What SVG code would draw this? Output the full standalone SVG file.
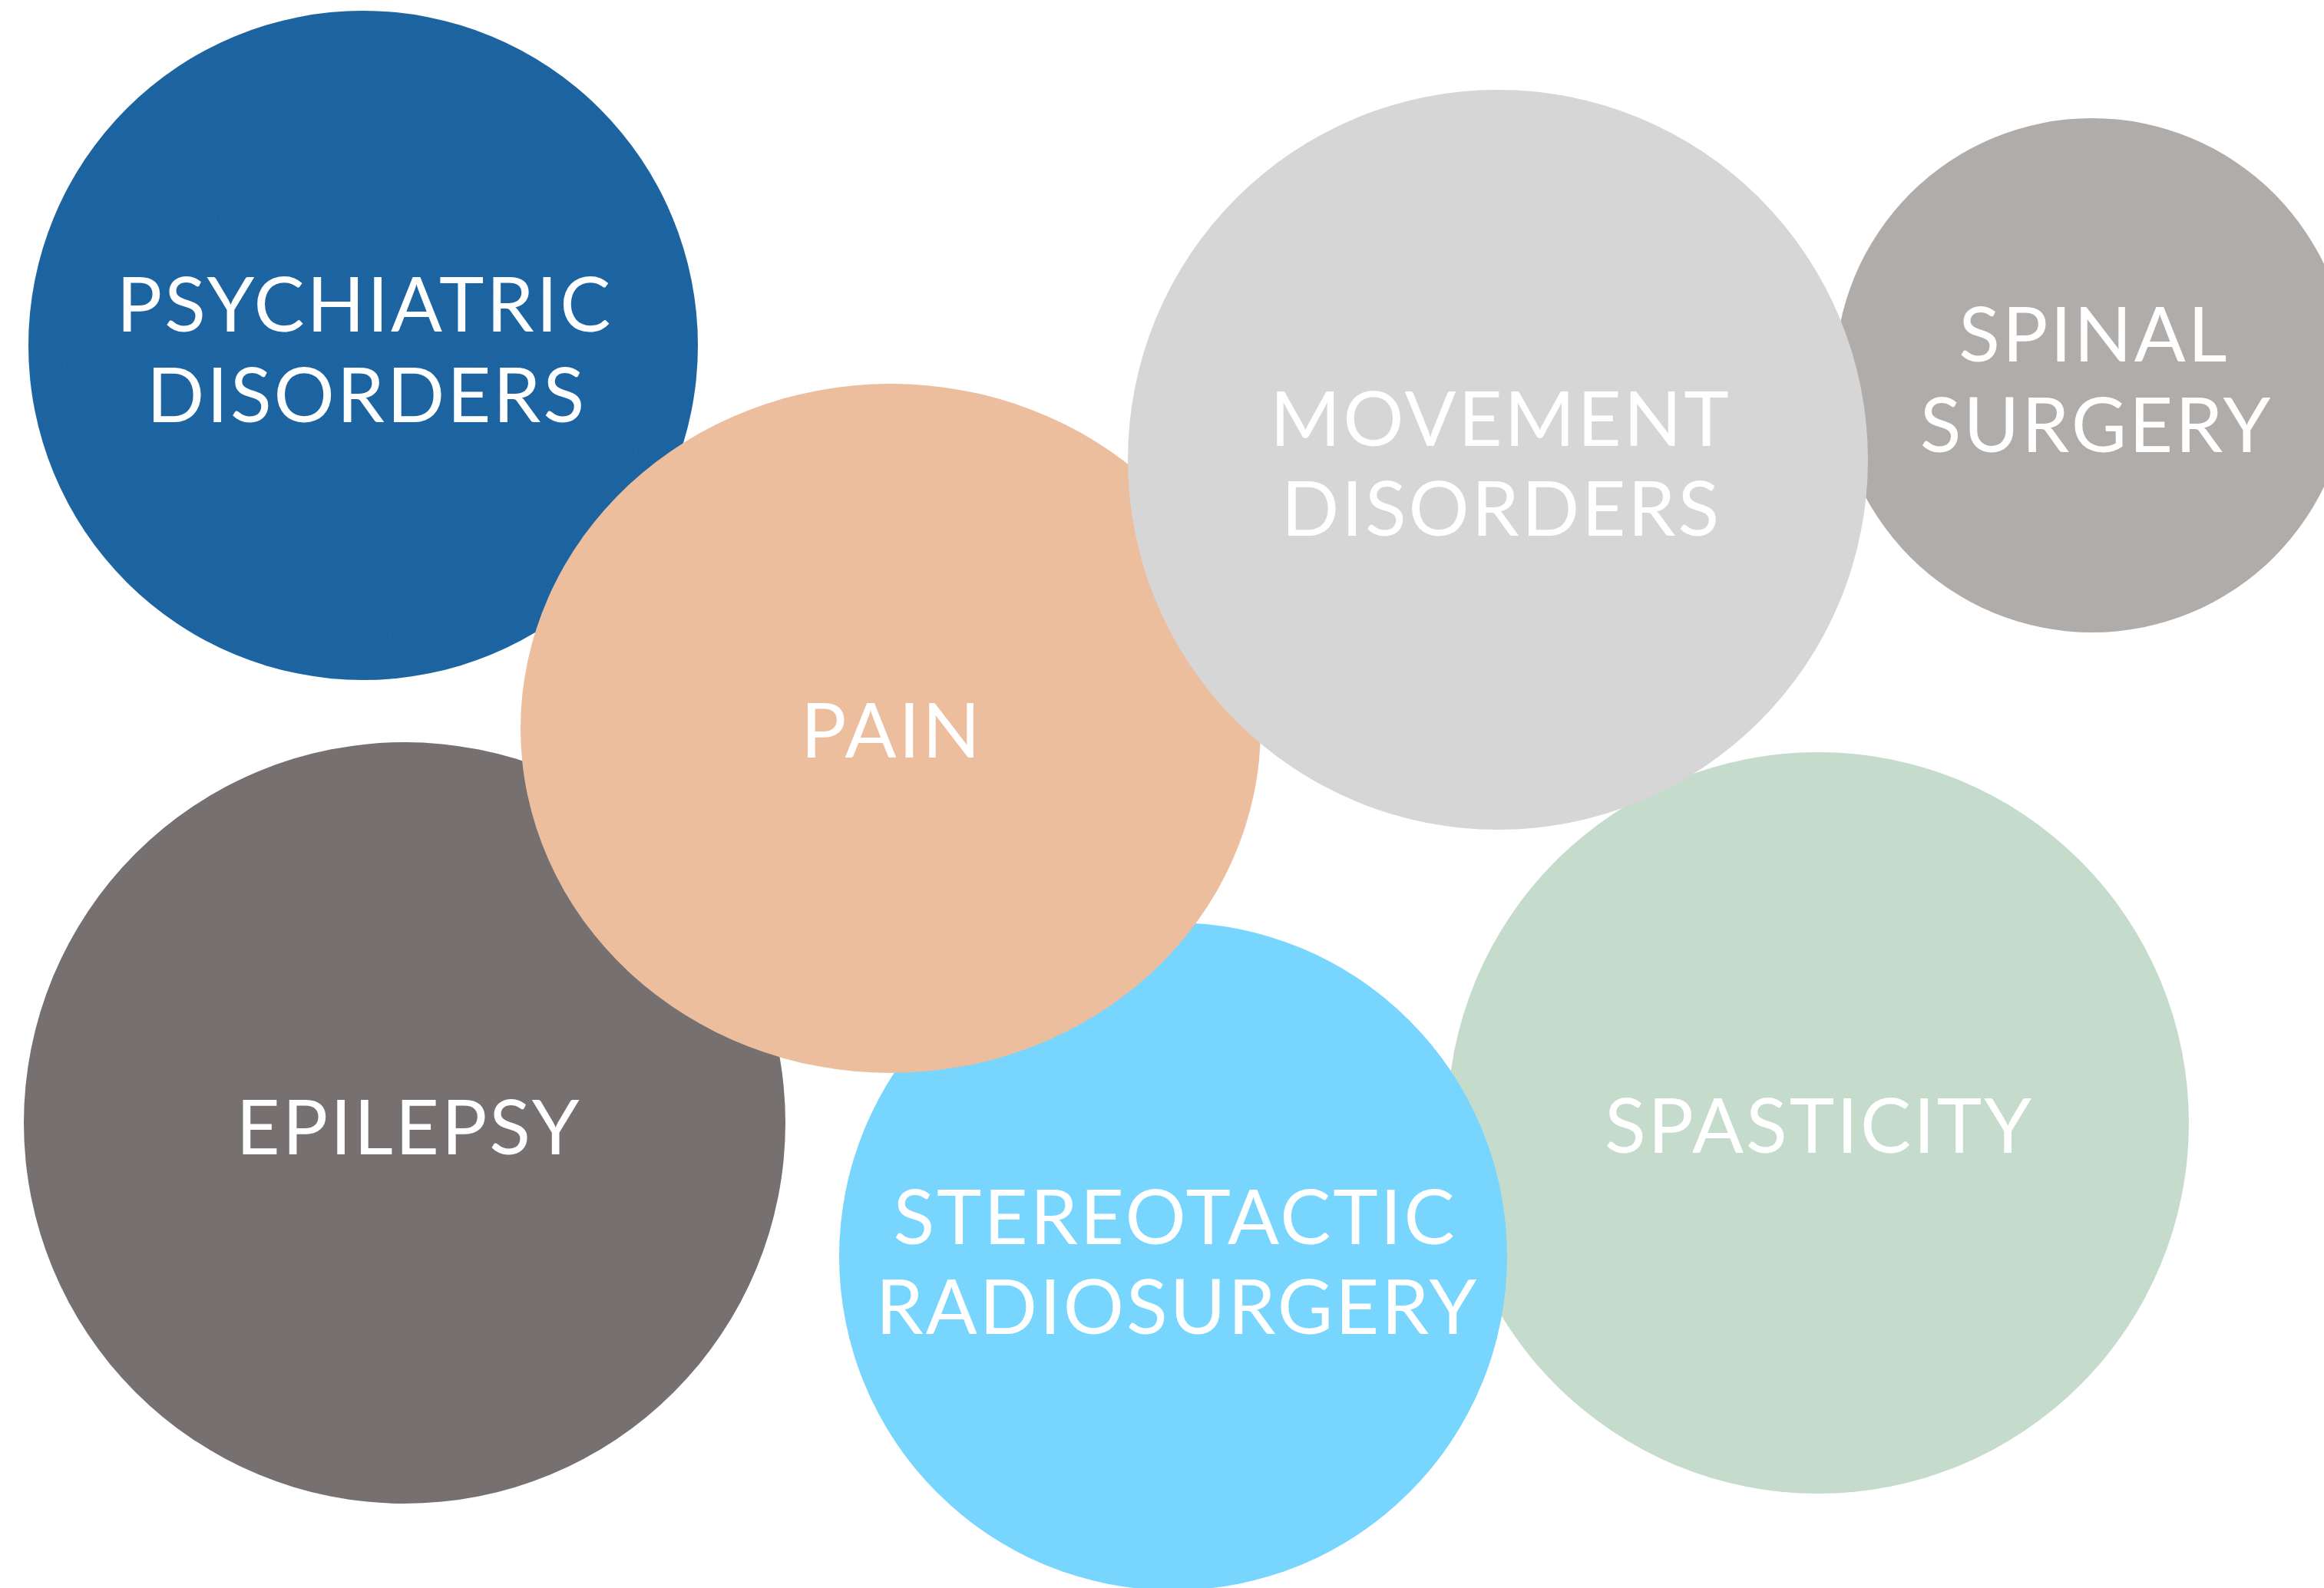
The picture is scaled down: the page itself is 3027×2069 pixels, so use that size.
<svg xmlns="http://www.w3.org/2000/svg" width="3027" height="2069" viewBox="0 0 3027 2069">
  <defs>
    <!-- fine mottled grain for the blue disc -->
    <filter id="grain" x="0" y="0" width="100%" height="100%">
      <feTurbulence type="fractalNoise" baseFrequency="0.3" numOctaves="2" seed="3" result="noise"/>
      <feColorMatrix in="noise" type="matrix" values="0 0 0 0 0  0 0 0 0 0  0 0 0 0 0  0 0 0 0.12 0" result="dark"/>
      <feComposite in="dark" in2="SourceGraphic" operator="in" result="darkIn"/>
      <feMerge>
        <feMergeNode in="SourceGraphic"/>
        <feMergeNode in="darkIn"/>
      </feMerge>
    </filter>
  </defs>
  <style>
    .label { font-family: Lato, "Open Sans", "Liberation Sans", sans-serif; font-size: 99px; font-weight: 400; fill: #ffffff; text-anchor: middle; letter-spacing: 3px; }
  </style>
  <rect width="3027" height="2069" fill="#ffffff"/>

  <!-- back layer first, front layer last -->
  <g id="spasticity">
    <circle cx="2368" cy="1463" r="483" fill="#c5dbcc"/>
    <text class="label" x="2369.5" y="1502">SPASTICITY</text>
  </g>
  <g id="stereotactic-radiosurgery">
    <circle cx="1528" cy="1637" r="435" fill="#78d5fd"/>
    <text class="label" x="1530.5" y="1621">STEREOTACTIC</text>
    <text class="label" x="1533.5" y="1738">RADIOSURGERY</text>
  </g>
  <g id="psychiatric-disorders">
    <circle cx="473" cy="450" r="436" fill="#2268a6" filter="url(#grain)"/>
    <text class="label" x="475" y="432">PSYCHIATRIC</text>
    <text class="label" x="477.5" y="550">DISORDERS</text>
  </g>
  <g id="epilepsy">
    <circle cx="527" cy="1463" r="496" fill="#767070"/>
    <text class="label" x="532.5" y="1504">EPILEPSY</text>
  </g>
  <g id="pain">
    <ellipse cx="1160" cy="949" rx="482" ry="449" fill="#ecbe9e"/>
    <text class="label" x="1161.5" y="987">PAIN</text>
  </g>
  <g id="spinal-surgery">
    <circle cx="2725" cy="489" r="335" fill="#afacaa"/>
    <text class="label" x="2727.5" y="471">SPINAL</text>
    <text class="label" x="2730.5" y="589">SURGERY</text>
  </g>
  <g id="movement-disorders">
    <circle cx="1951" cy="599" r="482" fill="#d6d6d6"/>
    <text class="label" x="1954.5" y="581">MOVEMENT</text>
    <text class="label" x="1955.5" y="698">DISORDERS</text>
  </g>

  <g id="connectors"></g>
</svg>
